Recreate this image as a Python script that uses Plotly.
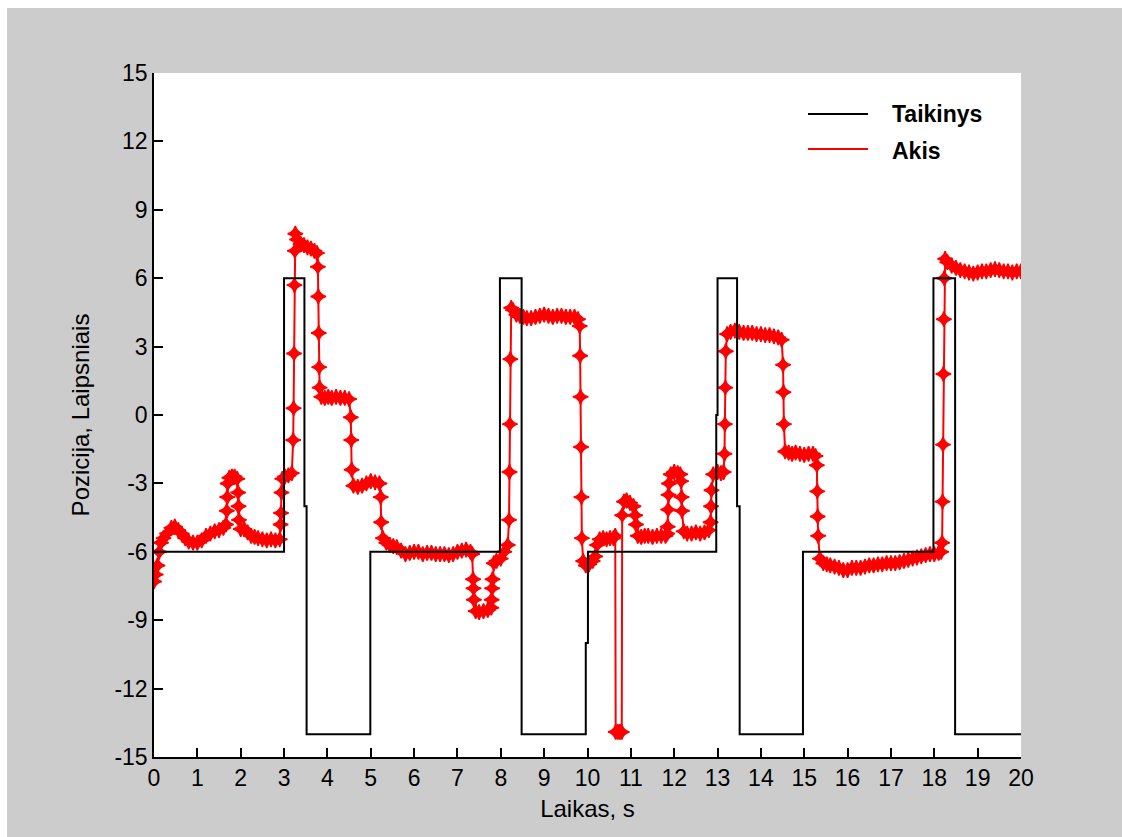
import plotly.graph_objects as go

# ---------------- data ----------------
# Target ("Taikinys") step signal
target_t = [0, 3.0, 3.0, 3.47, 3.47, 3.52, 3.52, 4.99, 4.99, 7.98, 7.98, 8.48, 8.48,
            9.96, 9.96, 10.01, 10.01, 12.97, 12.97, 13.0, 13.0, 13.45, 13.45, 13.51, 13.51,
            14.97, 14.97, 17.98, 17.98, 18.48, 18.48, 20]
target_y = [-6, -6, 6, 6, -4, -4, -14, -14, -6, -6, 6, 6, -14,
            -14, -10, -10, -6, -6, 0, 0, 6, 6, -4, -4, -14,
            -14, -6, -6, 6, 6, -14, -14]

# Eye position ("Akis")
eye_t = [0.00, 0.04, 0.08, 0.12, 0.16, 0.22, 0.30, 0.40, 0.48, 0.56, 0.64, 0.72, 0.80, 0.90,
         1.00, 1.10, 1.20, 1.30, 1.40, 1.50, 1.60, 1.66,
         1.68, 1.69, 1.70, 1.74, 1.80, 1.86, 1.92, 1.94, 1.95, 1.96,
         2.00, 2.08, 2.16, 2.24, 2.32, 2.40, 2.50, 2.60, 2.70, 2.80, 2.90,
         2.92, 2.93, 2.94, 2.96, 3.02, 3.10, 3.18,
         3.21, 3.22, 3.23, 3.24, 3.25, 3.26,
         3.30, 3.38, 3.46, 3.54, 3.62, 3.70, 3.76,
         3.78, 3.79, 3.80, 3.81, 3.82,
         3.86, 3.94, 4.02, 4.10, 4.20, 4.30, 4.40, 4.50,
         4.54, 4.55, 4.56, 4.60, 4.70, 4.80, 4.90, 5.00, 5.10, 5.20,
         5.23, 5.24, 5.28, 5.36, 5.44, 5.52, 5.60, 5.70, 5.80, 5.90, 6.00, 6.10, 6.20,
         6.30, 6.40, 6.50, 6.60, 6.70, 6.80, 6.90, 7.00, 7.10, 7.20, 7.30, 7.34,
         7.36, 7.37, 7.38, 7.42, 7.50, 7.60, 7.70, 7.78,
         7.79, 7.80, 7.81, 7.84, 7.90, 8.00, 8.08, 8.16,
         8.19, 8.20, 8.21, 8.22, 8.24, 8.28, 8.36, 8.44, 8.52, 8.60, 8.70, 8.80, 8.90,
         9.00, 9.10, 9.20, 9.30, 9.40, 9.50, 9.60, 9.70, 9.78,
         9.82, 9.83, 9.84, 9.85, 9.86, 9.87, 9.90, 9.96, 10.04, 10.12, 10.18,
         10.22, 10.28, 10.36, 10.44, 10.52, 10.60, 10.64,
         10.65, 10.70, 10.75, 10.79, 10.80, 10.84, 10.90, 10.98, 11.06, 11.10, 11.12,
         11.16, 11.24, 11.32, 11.40, 11.50, 11.60, 11.70, 11.80, 11.84,
         11.85, 11.86, 11.87, 11.88, 11.92, 12.00, 12.08, 12.14,
         12.16, 12.17, 12.18, 12.22, 12.30, 12.40, 12.50, 12.60, 12.70, 12.80,
         12.84, 12.85, 12.86, 12.90, 13.00, 13.08, 13.14,
         13.16, 13.17, 13.18, 13.19, 13.22, 13.30, 13.40, 13.50, 13.60, 13.70, 13.80, 13.90,
         14.00, 14.10, 14.20, 14.30, 14.40, 14.48,
         14.51, 14.52, 14.53, 14.56, 14.64, 14.72, 14.80, 14.90, 15.00, 15.10, 15.20, 15.26,
         15.29, 15.30, 15.31, 15.32, 15.36, 15.44, 15.52, 15.60, 15.70, 15.80, 15.90, 16.00,
         16.10, 16.20, 16.30, 16.40, 16.50, 16.60, 16.70, 16.80, 16.90, 17.00, 17.10, 17.20,
         17.30, 17.40, 17.50, 17.60, 17.70, 17.80, 17.90, 18.00, 18.10, 18.16,
         18.18, 18.19, 18.20, 18.21, 18.22, 18.23, 18.25, 18.30, 18.40, 18.50, 18.60, 18.70,
         18.80, 18.90, 19.00, 19.10, 19.20, 19.30, 19.40, 19.50, 19.60, 19.70, 19.80, 19.90, 20.00]
eye_y = [-7.3, -7.0, -6.6, -6.0, -5.6, -5.4, -5.2, -4.95, -4.9, -5.05, -5.2, -5.4, -5.55, -5.6,
         -5.6, -5.5, -5.3, -5.2, -5.1, -5.05, -4.95, -4.8,
         -4.2, -3.6, -3.0, -2.75, -2.7, -2.7, -2.8, -3.4, -4.0, -4.6,
         -5.0, -5.0, -5.15, -5.3, -5.35, -5.4, -5.45, -5.5, -5.45, -5.5, -5.45,
         -4.8, -4.3, -3.4, -2.8, -2.7, -2.65, -2.55,
         -1.1, 0.3, 2.7, 5.7, 7.2, 7.95,
         7.7, 7.5, 7.45, 7.35, 7.3, 7.2, 7.1,
         6.5, 5.2, 3.6, 2.1, 1.2,
         0.8, 0.75, 0.8, 0.75, 0.8, 0.75, 0.75, 0.7,
         -0.1, -1.1, -2.4, -3.1, -3.15, -3.1, -3.0, -2.9, -2.95, -3.0,
         -3.6, -4.7, -5.4, -5.6, -5.7, -5.75, -5.8, -5.95, -6.1, -6.05, -6.0, -6.0, -6.1,
         -6.05, -6.05, -6.1, -6.1, -6.1, -6.15, -6.1, -6.0, -5.95, -5.9, -6.0, -6.1,
         -7.2, -7.6, -8.1, -8.6, -8.65, -8.6, -8.55, -8.45,
         -8.1, -7.6, -7.2, -6.5, -6.4, -6.3, -6.0, -5.7,
         -4.6, -2.5, -0.4, 2.45, 4.7, 4.6, 4.4, 4.35, 4.3, 4.25, 4.25, 4.3, 4.35,
         4.4, 4.35, 4.3, 4.35, 4.35, 4.3, 4.3, 4.3, 4.2,
         3.9, 2.6, 0.8, -1.4, -3.6, -5.4, -6.4, -6.6, -6.55, -6.4, -6.2,
         -5.7, -5.45, -5.4, -5.45, -5.4, -5.4, -5.3,
         -13.9, -13.9, -13.9, -13.9, -4.4, -3.8, -3.75, -3.85, -4.0, -4.4, -4.8,
         -5.3, -5.35, -5.3, -5.3, -5.35, -5.3, -5.3, -5.3, -5.2,
         -4.9, -4.15, -3.5, -3.0, -2.6, -2.5, -2.55, -2.6,
         -2.9, -3.6, -4.2, -5.1, -5.2, -5.2, -5.15, -5.2, -5.15, -5.05,
         -4.7, -4.0, -3.3, -2.6, -2.5, -2.55, -2.5,
         -1.7, -0.4, 1.2, 2.8, 3.55, 3.65, 3.7, 3.65, 3.6, 3.6, 3.6, 3.55,
         3.55, 3.5, 3.5, 3.45, 3.4, 3.3,
         2.2, 1.0, -0.4, -1.6, -1.65, -1.7, -1.65, -1.7, -1.75, -1.7, -1.7, -1.8,
         -2.2, -3.35, -4.45, -5.3, -6.3, -6.5, -6.55, -6.6, -6.65, -6.7, -6.8, -6.8,
         -6.7, -6.7, -6.7, -6.65, -6.6, -6.6, -6.55, -6.55, -6.5, -6.5, -6.5, -6.45,
         -6.4, -6.35, -6.3, -6.25, -6.2, -6.15, -6.1, -6.1, -6.05, -6.0,
         -5.6, -3.8, -1.3, 1.8, 4.2, 6.0, 6.85, 6.7, 6.55, 6.45, 6.35, 6.3,
         6.25, 6.2, 6.25, 6.3, 6.3, 6.35, 6.4, 6.35, 6.3, 6.3, 6.25, 6.3, 6.3]

x_ticks = list(range(0, 21))
y_ticks = list(range(-15, 16, 3))
series_names = ["Taikinys", "Akis"]
x_title = "Laikas, s"
y_title = "Pozicija, Laipsniais"

# ---------------- figure ----------------
W, H = 1122, 837
ML, MR, MT, MB = 154, 101, 73, 80
PW, PH = W - ML - MR, H - MT - MB

def px_x(px):
    return (px - ML) / PW

def px_y(py):
    return (H - MB - py) / PH

FONT = "Liberation Sans, Arial, sans-serif"

fig = go.Figure()
fig.add_trace(go.Scatter(
    x=eye_t, y=eye_y, mode="lines+markers", name=series_names[1],
    line=dict(color="#ff0000", width=2),
    marker=dict(symbol="star-diamond", size=11, color="#ff0000",
                line=dict(width=1.5, color="#ff0000")),
    showlegend=False))
fig.add_trace(go.Scatter(
    x=target_t, y=target_y, mode="lines", name=series_names[0],
    line=dict(color="#000000", width=2), showlegend=False))

shapes = [
    # white page margins at left and top
    dict(type="rect", xref="paper", yref="paper", x0=px_x(-5), x1=px_x(7),
         y0=px_y(H + 5), y1=px_y(-5), fillcolor="white", line=dict(width=0), layer="below"),
    dict(type="rect", xref="paper", yref="paper", x0=px_x(-5), x1=px_x(W + 5),
         y0=px_y(8), y1=px_y(-5), fillcolor="white", line=dict(width=0), layer="below"),
    # legend samples
    dict(type="line", xref="paper", yref="paper", x0=px_x(808), x1=px_x(868),
         y0=px_y(114), y1=px_y(114), line=dict(color="black", width=2)),
    dict(type="line", xref="paper", yref="paper", x0=px_x(808), x1=px_x(868),
         y0=px_y(149), y1=px_y(149), line=dict(color="#ff0000", width=2)),
]
annotations = [
    dict(xref="paper", yref="paper", x=px_x(890), y=px_y(114), text="<b>%s</b>" % series_names[0],
         showarrow=False, xanchor="left", yanchor="middle",
         font=dict(family=FONT, size=23, color="black")),
    dict(xref="paper", yref="paper", x=px_x(890), y=px_y(151), text="<b>%s</b>" % series_names[1],
         showarrow=False, xanchor="left", yanchor="middle",
         font=dict(family=FONT, size=23, color="black")),
]

fig.update_layout(
    width=W, height=H,
    margin=dict(l=ML, r=MR, t=MT, b=MB, pad=0),
    paper_bgcolor="#cccccc", plot_bgcolor="white",
    font=dict(family=FONT, color="black"),
    shapes=shapes, annotations=annotations,
    showlegend=False,
)
fig.update_xaxes(
    range=[0, 20], tickvals=x_ticks, ticktext=[str(v) for v in x_ticks],
    showgrid=False, zeroline=False, showline=True, linecolor="black", linewidth=1.5,
    ticks="inside", ticklen=9, tickwidth=1.5, tickcolor="black", mirror=False,
    tickfont=dict(family=FONT, size=23, color="black"),
    title=dict(text=x_title, font=dict(family=FONT, size=24, color="black"), standoff=10),
)
fig.update_yaxes(
    range=[-15, 15], tickvals=y_ticks, ticktext=[str(v) for v in y_ticks],
    showgrid=False, zeroline=False, showline=True, linecolor="black", linewidth=1.5,
    ticks="inside", ticklen=9, tickwidth=1.5, tickcolor="black", mirror=False,
    tickfont=dict(family=FONT, size=23, color="black"),
    title=dict(text=y_title, font=dict(family=FONT, size=24, color="black"), standoff=18),
)

fig.write_html("out.html")
